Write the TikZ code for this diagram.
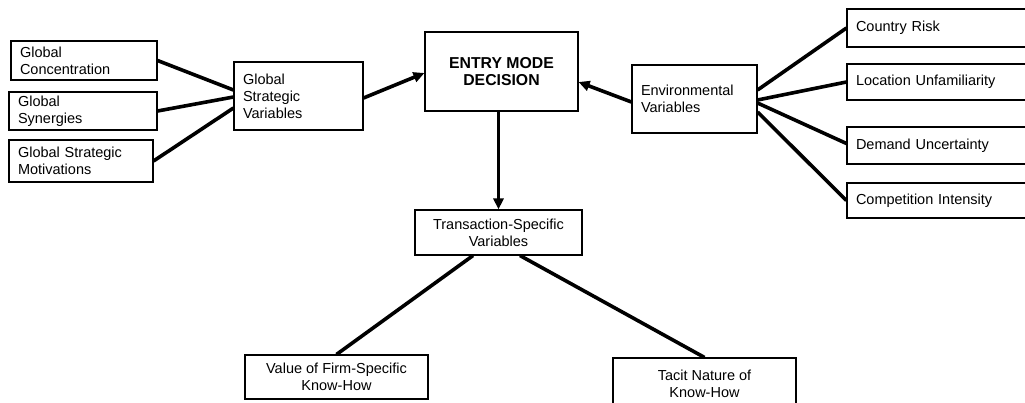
\documentclass[tikz,border=0pt]{standalone}
\usepackage{fontspec}
\setmainfont{Liberation Sans}
\usetikzlibrary{arrows.meta,calc}
\begin{document}
\begin{tikzpicture}[x=1pt,y=-1pt,
  box/.style={draw,line width=1.1pt,inner xsep=9pt,inner ysep=0pt,
    font=\fontsize{14.5}{17}\selectfont},
  lbox/.style 2 args={box,text width=#1,minimum height=#2,align=left},
  cbox/.style 2 args={box,minimum width=#1,minimum height=#2,align=center},
  link/.style={line width=3.6pt},
  arrow/.style={link,-{Triangle[length=11pt,width=10pt]}}]
\useasboundingbox (0,0) rectangle (1025,402);

% global strategic side
\node[lbox={128pt}{39pt}] (gc)  at (84,60.5)  {Global\\Concentration};
\node[lbox={130pt}{38pt}] (gs)  at (83,111)   {Global\\Synergies};
\node[lbox={126pt}{42pt}] (gsm) at (81,161)   {Global Strategic\\Motivations};
\node[lbox={111pt}{68pt}] (gsv) at (298.5,96) {Global\\Strategic\\Variables};

% decision
\node[cbox={153pt}{79pt},font=\fontsize{15.8}{17}\selectfont\bfseries] (emd) at (501.5,71.5)
  {ENTRY MODE\\DECISION};

% environmental side
\node[lbox={107pt}{68pt}] (ev) at (694.5,99) {Environmental\\Variables};
\node[lbox={165pt}{38pt}] (cr) at (938.5,28)    {Country Risk};
\node[lbox={165pt}{36pt}] (lu) at (938.5,82)    {Location Unfamiliarity};
\node[lbox={165pt}{37pt}] (du) at (938.5,145.5) {Demand Uncertainty};
\node[lbox={165pt}{35pt}] (ci) at (938.5,200.5) {Competition Intensity};

% transaction-specific branch
\node[cbox={167pt}{45pt}] (tsv) at (498.5,232.5) {Transaction-Specific\\Variables};
\node[cbox={183pt}{44pt}] (vfs) at (336.5,377)   {Value of Firm-Specific\\Know-How};
\node[cbox={183pt}{52pt}] (tn)  at (704.5,384)   {Tacit Nature of\\Know-How};

% connectors
\draw[link] (gc.east)  -- ($(gsv.west)+(0,-6)$);
\draw[link] (gs.east)  -- ($(gsv.west)+(0,1)$);
\draw[link] (gsm.east) -- ($(gsv.west)+(0,12)$);
\draw[arrow] ($(gsv.east)+(0,2)$) -- ($(emd.west)+(0,1.5)$);
\draw[arrow] ($(ev.west)+(0,3)$) -- ($(emd.east)+(0,10.5)$);

\draw[link] ($(ev.east)+(0,-9)$) -- (cr.west);
\draw[link] ($(ev.east)+(0,1)$)  -- (lu.west);
\draw[link] ($(ev.east)+(0,4)$)  -- ($(du.west)+(0,-2)$);
\draw[link] ($(ev.east)+(0,13)$) -- (ci.west);

\draw[arrow] (tsv.north |- emd.south) -- (tsv.north);
\draw[link] ($(tsv.south)+(-25.5,0)$) -- (vfs.north);
\draw[link] ($(tsv.south)+(21.5,0)$)  -- (tn.north);
\end{tikzpicture}
\end{document}
